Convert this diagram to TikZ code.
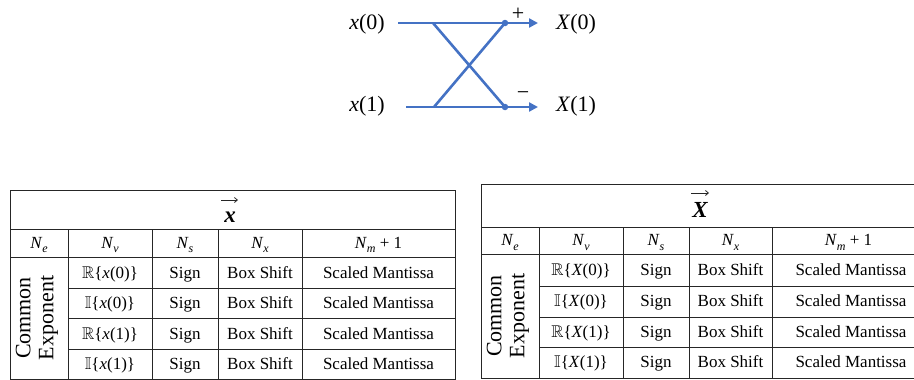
\documentclass[tikz,border=0pt]{standalone}
\usepackage{amsmath,amssymb}
\usepackage{fontspec}
\setmainfont{Liberation Serif}
\usetikzlibrary{arrows.meta}
\definecolor{bfblue}{HTML}{4472C4}
\definecolor{gridc}{HTML}{262626}
\newcommand\subi[1]{\raisebox{-0.28em}{\fontsize{12}{12}\selectfont\textit{#1}}}
\newcommand\NN[1]{\textit{N}\subi{#1}}
\newcommand\dsR{$\mathbb{R}$}
\newcommand\dsI{$\mathbb{I}$}
\tikzset{
  gridline/.style={draw=gridc, line width=1pt},
  celltext/.style={font=\fontsize{17}{18}\selectfont, inner sep=0pt, anchor=base},
  titletext/.style={font=\fontsize{23}{24}\selectfont\bfseries\itshape, inner sep=0pt, anchor=base},
  titlearrow/.style={draw=gridc, line width=0.8pt, -{Straight Barb[length=3pt,width=5pt]}},
  rottext/.style={font=\fontsize{22}{23}\selectfont, inner sep=0pt, rotate=90, align=center},
  bflabel/.style={font=\fontsize{22}{24}\selectfont, inner sep=0pt},
  bfline/.style={draw=bfblue, line width=2.6pt},
  bfarrow/.style={bfline, -{Triangle[length=9pt,width=9pt]}},
  bfdot/.style={circle, fill=bfblue, minimum size=6.5pt, inner sep=0pt},
}
\begin{document}
\begin{tikzpicture}[x=1pt,y=-1pt]
\useasboundingbox (0,0) rectangle (914,380);

% ---------------- Butterfly ----------------
\node[bflabel] (x0) at (367,24) {\textit{x}(0)};
\node[bflabel] (x1) at (367,106) {\textit{x}(1)};
\node[bflabel] (X0) at (576,24) {\textit{X}(0)};
\node[bflabel] (X1) at (576,106) {\textit{X}(1)};
\coordinate (s0) at (398,23);
\coordinate (s1) at (406,107);
\coordinate (c0) at (433,23);
\coordinate (c1) at (434,107);
\coordinate (e0) at (538,23);
\coordinate (e1) at (538,107);
\node[bfdot] (d0) at (505,23) {};
\node[bfdot] (d1) at (505,107) {};
\draw[bfline] (s0) -- (d0.center);
\draw[bfline] (s1) -- (d1.center);
\draw[bfline] (c0) -- (d1.center);
\draw[bfline] (c1) -- (d0.center);
\draw[bfarrow] (d0.center) -- (e0);
\draw[bfarrow] (d1.center) -- (e1);
\node[bflabel] (plus) at (518,14) {+};
\node[bflabel] (minus) at (523,96) {−};

% ---------------- Left table ----------------
\draw[gridline] (10,190) rectangle (455,379);
\draw[gridline] (10,229) -- (455,229);
\draw[gridline] (10,257) -- (455,257);
\foreach \y in {288,318,349} \draw[gridline] (68,\y) -- (455,\y);
\foreach \x in {68,152,218,302} \draw[gridline] (\x,229) -- (\x,379);

\node[titletext] (Lt) at (230,222) {x};
\coordinate (La0) at (221,200);
\coordinate (La1) at (238,200);
\draw[titlearrow] (La0) -- (La1);
\node[celltext] (Lh1) at (39,248) {\NN{e}};
\node[celltext] (Lh2) at (110,248) {\NN{v}};
\node[celltext] (Lh3) at (185,248) {\NN{s}};
\node[celltext] (Lh4) at (260,248) {\NN{x}};
\node[celltext] (Lh5) at (378.5,248) {\NN{m} + 1};
\node[rottext] (Lce) at (37,318) {Common\\Exponent};
\foreach \yy/\lab [count=\i] in {278/{\dsR\{\textit{x}(0)\}},308.5/{\dsI\{\textit{x}(0)\}},339/{\dsR\{\textit{x}(1)\}},369.5/{\dsI\{\textit{x}(1)\}}}{
  \node[celltext] (Lv\i) at (110,\yy) {\lab};
  \node[celltext] (Ls\i) at (185,\yy) {Sign};
  \node[celltext] (Lx\i) at (260,\yy) {Box Shift};
  \node[celltext] (Lm\i) at (378.5,\yy) {Scaled Mantissa};
}

% ---------------- Right table ----------------
\draw[gridline] (914,184.5) -- (481,184.5) -- (481,378) -- (914,378);
\draw[gridline] (481,227) -- (914,227);
\draw[gridline] (481,254) -- (914,254);
\foreach \y in {286,317,347} \draw[gridline] (539,\y) -- (914,\y);
\foreach \x in {539,623,689,772} \draw[gridline] (\x,227) -- (\x,378);

\node[titletext] (Rt) at (700,217) {X};
\coordinate (Ra0) at (691,193);
\coordinate (Ra1) at (709,193);
\draw[titlearrow] (Ra0) -- (Ra1);
\node[celltext] (Rh1) at (510,245.5) {\NN{e}};
\node[celltext] (Rh2) at (581,245.5) {\NN{v}};
\node[celltext] (Rh3) at (656,245.5) {\NN{s}};
\node[celltext] (Rh4) at (730.5,245.5) {\NN{x}};
\node[celltext] (Rh5) at (848.5,245.5) {\NN{m} + 1};
\node[rottext] (Rce) at (508,316) {Common\\Exponent};
\foreach \yy/\lab [count=\i] in {275.5/{\dsR\{\textit{X}(0)\}},306.5/{\dsI\{\textit{X}(0)\}},337/{\dsR\{\textit{X}(1)\}},367.5/{\dsI\{\textit{X}(1)\}}}{
  \node[celltext] (Rv\i) at (581,\yy) {\lab};
  \node[celltext] (Rs\i) at (656,\yy) {Sign};
  \node[celltext] (Rx\i) at (730.5,\yy) {Box Shift};
  \node[celltext] (Rm\i) at (851,\yy) {Scaled Mantissa};
}
\end{tikzpicture}
\end{document}
